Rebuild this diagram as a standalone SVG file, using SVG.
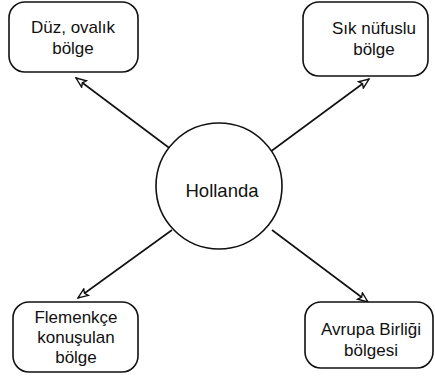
<svg xmlns="http://www.w3.org/2000/svg" width="435" height="382" viewBox="0 0 435 382">
<defs>
<marker id="ah" viewBox="0 0 12 10" refX="11" refY="5" markerWidth="12" markerHeight="10" markerUnits="userSpaceOnUse" orient="auto">
<path d="M1,1 L11,5 L1,9 L3,5 Z" fill="#fff" stroke="#111" stroke-width="1.4" stroke-linejoin="miter"/>
</marker>
</defs>
<style>
.box{fill:#fff;stroke:#111;stroke-width:1.6}
.t{font-family:"Liberation Sans",Arial,sans-serif;font-size:17px;fill:#111;text-anchor:middle}
.c{stroke:#111;stroke-width:1.6;fill:none;marker-end:url(#ah)}
</style>
<rect width="435" height="382" fill="#fff"/>
<g id="connectors">
<line class="c" x1="172" y1="150" x2="76" y2="78"/>
<line class="c" x1="270" y1="152" x2="369" y2="79"/>
<line class="c" x1="172" y1="230" x2="78" y2="298"/>
<line class="c" x1="272" y1="230" x2="368" y2="302"/>
</g>
<g id="center">
<circle cx="219" cy="186" r="63" fill="#fff" stroke="#111" stroke-width="1.6"/>
<text class="t" x="222" y="197" style="font-size:18.5px">Hollanda</text>
</g>
<g id="n1">
<rect class="box" x="9" y="2" width="129" height="70" rx="16"/>
<text class="t" x="73" y="33">Düz, ovalık</text>
<text class="t" x="73" y="54">bölge</text>
</g>
<g id="n2">
<rect class="box" x="303" y="2" width="125" height="74" rx="16"/>
<text class="t" x="374" y="34">Sık nüfuslu</text>
<text class="t" x="374" y="55">bölge</text>
</g>
<g id="n3">
<rect class="box" x="13" y="302" width="125" height="70" rx="16"/>
<text class="t" x="76" y="323">Flemenkçe</text>
<text class="t" x="76" y="343">konuşulan</text>
<text class="t" x="76" y="363">bölge</text>
</g>
<g id="n4">
<rect class="box" x="305" y="302" width="128" height="66" rx="16"/>
<text class="t" x="371" y="335">Avrupa Birliği</text>
<text class="t" x="371" y="356">bölgesi</text>
</g>
</svg>
